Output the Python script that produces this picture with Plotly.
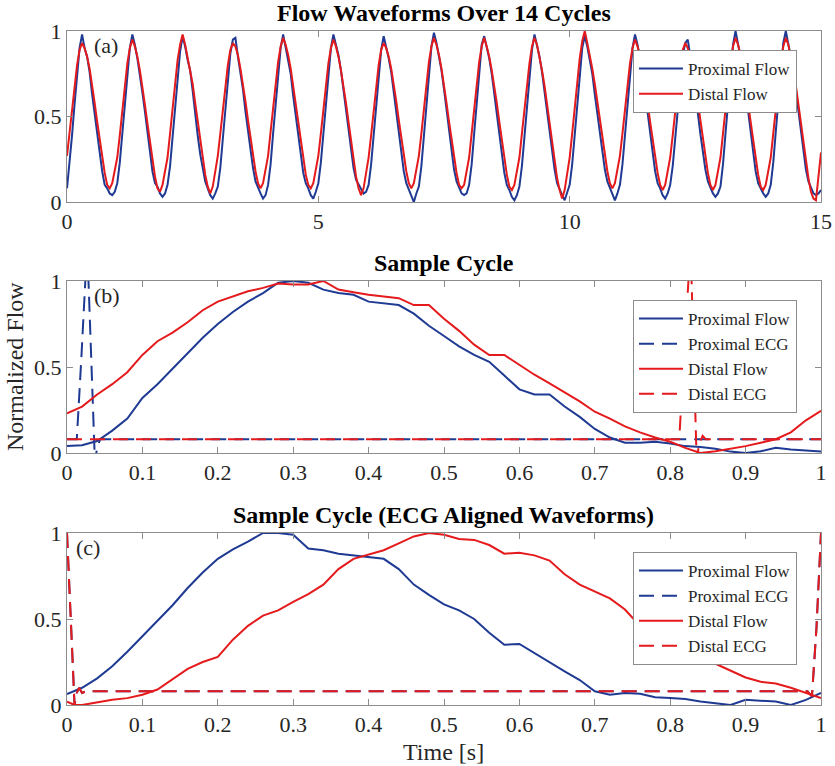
import numpy as np
import plotly.graph_objects as go

# ---------------- Panel (a): 15 s of flow, sampled every 0.05 s ----------------
t_a = np.round(np.arange(301) * 0.05, 2)

prox_flow_a = [
    0.08, 0.22, 0.39, 0.57, 0.74, 0.90, 0.98, 0.90, 0.85, 0.76, 0.63, 0.52, 0.40, 0.28, 0.18, 0.10, 0.08, 0.05, 0.04, 0.06,
    0.11, 0.23, 0.40, 0.58, 0.75, 0.90, 0.98, 0.92, 0.84, 0.75, 0.64, 0.53, 0.41, 0.29, 0.18, 0.11, 0.09, 0.05, 0.03, 0.05,
    0.10, 0.21, 0.38, 0.56, 0.74, 0.88, 0.97, 0.91, 0.83, 0.77, 0.65, 0.51, 0.39, 0.28, 0.19, 0.12, 0.08, 0.04, 0.02, 0.05,
    0.09, 0.20, 0.37, 0.55, 0.72, 0.87, 0.95, 0.96, 0.85, 0.76, 0.66, 0.53, 0.41, 0.30, 0.20, 0.12, 0.08, 0.05, 0.02, 0.04,
    0.10, 0.22, 0.40, 0.58, 0.75, 0.90, 0.98, 0.90, 0.84, 0.75, 0.62, 0.51, 0.39, 0.27, 0.17, 0.11, 0.08, 0.04, 0.02, 0.06,
    0.11, 0.23, 0.41, 0.59, 0.76, 0.90, 0.98, 0.92, 0.86, 0.77, 0.65, 0.54, 0.42, 0.30, 0.20, 0.13, 0.10, 0.07, 0.05, 0.06,
    0.10, 0.22, 0.39, 0.57, 0.74, 0.89, 0.97, 0.91, 0.84, 0.76, 0.64, 0.52, 0.40, 0.28, 0.18, 0.11, 0.07, 0.03, 0.00, 0.05,
    0.09, 0.21, 0.39, 0.58, 0.76, 0.91, 0.99, 0.93, 0.85, 0.77, 0.66, 0.54, 0.42, 0.30, 0.19, 0.12, 0.08, 0.05, 0.04, 0.05,
    0.10, 0.22, 0.40, 0.58, 0.75, 0.92, 0.97, 0.91, 0.84, 0.75, 0.63, 0.51, 0.39, 0.27, 0.17, 0.10, 0.07, 0.03, 0.01, 0.04,
    0.09, 0.21, 0.38, 0.56, 0.74, 0.89, 0.98, 0.92, 0.85, 0.76, 0.64, 0.52, 0.40, 0.29, 0.19, 0.11, 0.07, 0.04, 0.01, 0.05,
    0.10, 0.22, 0.40, 0.58, 0.75, 0.90, 0.97, 0.91, 0.83, 0.75, 0.63, 0.52, 0.41, 0.29, 0.19, 0.12, 0.08, 0.04, 0.01, 0.05,
    0.10, 0.22, 0.39, 0.57, 0.75, 0.90, 0.98, 0.92, 0.84, 0.76, 0.64, 0.53, 0.41, 0.29, 0.18, 0.11, 0.08, 0.04, 0.02, 0.05,
    0.10, 0.21, 0.38, 0.55, 0.72, 0.86, 0.93, 0.95, 0.85, 0.75, 0.64, 0.52, 0.40, 0.29, 0.19, 0.12, 0.08, 0.05, 0.03, 0.05,
    0.09, 0.22, 0.40, 0.59, 0.77, 0.92, 1.00, 0.92, 0.85, 0.77, 0.65, 0.53, 0.41, 0.29, 0.18, 0.11, 0.08, 0.05, 0.03, 0.05,
    0.10, 0.23, 0.41, 0.60, 0.78, 0.93, 1.00, 0.93, 0.86, 0.77, 0.65, 0.53, 0.41, 0.29, 0.19, 0.12, 0.08, 0.05, 0.04, 0.05,
    0.07,
]

dist_flow_a = [
    0.27, 0.40, 0.53, 0.67, 0.80, 0.89, 0.93, 0.90, 0.85, 0.78, 0.69, 0.58, 0.47, 0.36, 0.26, 0.17, 0.10, 0.08, 0.11, 0.18,
    0.26, 0.39, 0.53, 0.68, 0.81, 0.90, 0.95, 0.91, 0.85, 0.77, 0.68, 0.57, 0.46, 0.35, 0.25, 0.15, 0.08, 0.06, 0.10, 0.17,
    0.26, 0.40, 0.55, 0.70, 0.83, 0.92, 0.98, 0.92, 0.85, 0.78, 0.69, 0.58, 0.47, 0.36, 0.26, 0.16, 0.09, 0.05, 0.09, 0.17,
    0.27, 0.40, 0.54, 0.67, 0.80, 0.89, 0.93, 0.91, 0.86, 0.78, 0.69, 0.59, 0.48, 0.37, 0.27, 0.18, 0.11, 0.08, 0.11, 0.18,
    0.27, 0.41, 0.55, 0.69, 0.82, 0.91, 0.96, 0.92, 0.86, 0.78, 0.68, 0.57, 0.46, 0.35, 0.25, 0.16, 0.10, 0.08, 0.11, 0.18,
    0.27, 0.40, 0.54, 0.68, 0.81, 0.90, 0.95, 0.91, 0.85, 0.77, 0.68, 0.58, 0.47, 0.36, 0.25, 0.15, 0.08, 0.04, 0.08, 0.16,
    0.26, 0.39, 0.53, 0.67, 0.80, 0.89, 0.93, 0.90, 0.85, 0.78, 0.69, 0.59, 0.48, 0.37, 0.27, 0.18, 0.11, 0.08, 0.11, 0.18,
    0.27, 0.40, 0.54, 0.68, 0.82, 0.91, 0.96, 0.92, 0.86, 0.78, 0.69, 0.58, 0.47, 0.36, 0.26, 0.17, 0.10, 0.08, 0.10, 0.17,
    0.26, 0.40, 0.54, 0.69, 0.82, 0.91, 0.96, 0.91, 0.85, 0.77, 0.68, 0.58, 0.47, 0.36, 0.25, 0.16, 0.09, 0.07, 0.10, 0.17,
    0.26, 0.40, 0.54, 0.68, 0.81, 0.91, 0.96, 0.92, 0.85, 0.77, 0.68, 0.57, 0.46, 0.35, 0.24, 0.14, 0.07, 0.02, 0.07, 0.16,
    0.26, 0.40, 0.55, 0.70, 0.84, 0.94, 1.00, 0.93, 0.86, 0.78, 0.69, 0.59, 0.48, 0.37, 0.27, 0.18, 0.11, 0.08, 0.11, 0.18,
    0.27, 0.40, 0.54, 0.68, 0.81, 0.90, 0.95, 0.91, 0.85, 0.77, 0.68, 0.58, 0.47, 0.36, 0.26, 0.17, 0.10, 0.07, 0.10, 0.17,
    0.26, 0.39, 0.53, 0.67, 0.80, 0.89, 0.93, 0.90, 0.85, 0.78, 0.69, 0.59, 0.48, 0.37, 0.27, 0.17, 0.10, 0.07, 0.10, 0.17,
    0.26, 0.40, 0.54, 0.68, 0.82, 0.91, 0.96, 0.92, 0.86, 0.78, 0.68, 0.58, 0.47, 0.36, 0.26, 0.16, 0.09, 0.07, 0.10, 0.17,
    0.26, 0.40, 0.54, 0.68, 0.82, 0.91, 0.96, 0.92, 0.85, 0.77, 0.68, 0.57, 0.46, 0.35, 0.24, 0.14, 0.06, 0.02, 0.01, 0.15,
    0.29,
]

# ---------------- Panel (b): sample cycle ----------------
t_cycle = np.round(np.arange(51) * 0.02, 2)

prox_flow_b = [
    0.040, 0.045, 0.070, 0.130, 0.200, 0.320, 0.400, 0.490, 0.580, 0.670,
    0.750, 0.820, 0.880, 0.930, 0.990, 1.000, 0.990, 0.950, 0.930, 0.920,
    0.880, 0.870, 0.860, 0.810, 0.740, 0.680, 0.620, 0.570, 0.530, 0.450,
    0.370, 0.340, 0.340, 0.270, 0.210, 0.140, 0.090, 0.060, 0.060, 0.065,
    0.055, 0.040, 0.035, 0.025, 0.008, 0.000, 0.010, 0.030, 0.020, 0.015,
    0.008,
]
dist_flow_b = [
    0.230, 0.270, 0.340, 0.400, 0.470, 0.570, 0.650, 0.700, 0.760, 0.830,
    0.880, 0.910, 0.940, 0.960, 0.985, 0.980, 0.980, 1.000, 0.950, 0.935,
    0.920, 0.910, 0.900, 0.860, 0.860, 0.780, 0.710, 0.630, 0.570, 0.570,
    0.510, 0.455, 0.405, 0.355, 0.300, 0.240, 0.200, 0.155, 0.120, 0.090,
    0.065, 0.030, 0.000, 0.010, 0.025, 0.040, 0.060, 0.080, 0.120, 0.190,
    0.245,
]
prox_ecg_b_t = [0.0, 0.013, 0.019, 0.025, 0.028, 0.032, 0.037, 0.040, 0.044, 1.0]
prox_ecg_b = [0.08, 0.08, 0.55, 1.06, 1.06, 0.55, -0.05, 0.03, 0.08, 0.08]
dist_ecg_b_t = [0.0, 0.812, 0.818, 0.825, 0.828, 0.832, 0.835, 0.839, 0.843, 0.847, 1.0]
dist_ecg_b = [0.08, 0.08, 0.55, 1.06, 1.06, 0.45, -0.03, 0.06, 0.10, 0.08, 0.08]

# ---------------- Panel (c): ECG aligned ----------------
prox_flow_c = [
    0.064, 0.100, 0.155, 0.225, 0.310, 0.400, 0.490, 0.580, 0.680, 0.770,
    0.850, 0.905, 0.950, 1.000, 1.000, 0.990, 0.910, 0.900, 0.880, 0.870,
    0.860, 0.850, 0.790, 0.700, 0.640, 0.585, 0.550, 0.500, 0.420, 0.350,
    0.355, 0.300, 0.250, 0.195, 0.145, 0.080, 0.060, 0.070, 0.065, 0.045,
    0.040, 0.035, 0.020, 0.010, 0.000, 0.030, 0.025, 0.020, 0.000, 0.030,
    0.070,
]
dist_flow_c_t = [0.0, 0.01] + [round(0.02 * k, 2) for k in range(1, 51)]
dist_flow_c = [
    0.020, 0.000,
    0.000, 0.015, 0.030, 0.040, 0.060, 0.090, 0.150, 0.210, 0.250,
    0.280, 0.380, 0.460, 0.520, 0.550, 0.600, 0.645, 0.700, 0.790, 0.850,
    0.875, 0.900, 0.940, 0.980, 1.000, 0.990, 0.965, 0.960, 0.930, 0.880,
    0.885, 0.870, 0.840, 0.760, 0.700, 0.660, 0.620, 0.555, 0.460, 0.400,
    0.340, 0.290, 0.275, 0.240, 0.200, 0.160, 0.135, 0.125, 0.100, 0.070,
    0.040,
]
ecg_c_t = [0.0, 0.004, 0.010, 0.013, 0.016, 0.020, 0.025, 0.982, 0.988, 0.994, 1.0]
prox_ecg_c = [1.0, 0.60, 0.0, 0.07, 0.10, 0.07, 0.08, 0.08, 0.05, 0.45, 1.0]
dist_ecg_c = [1.0, 0.60, 0.0, 0.07, 0.10, 0.07, 0.08, 0.08, 0.05, 0.45, 1.0]

# ---------------- styling ----------------
BLUE = "#1f3a93"
RED = "#e41a1c"
AX = "#8c8c8c"
TXT = "#262626"
FONT = "Liberation Serif"
W, H = 835, 766

fig = go.Figure()

def line(x, y, color, name, dash, xa, ya, legend, show=True):
    fig.add_trace(go.Scatter(
        x=x, y=y, mode="lines", name=name,
        line=dict(color=color, width=2, dash=dash),
        xaxis=xa, yaxis=ya, legend=legend, showlegend=show,
    ))

SOLID = "solid"
DASH = "15px,8px"

line(t_a, prox_flow_a, BLUE, "Proximal Flow", SOLID, "x", "y", "legend")
line(t_a, dist_flow_a, RED, "Distal Flow", SOLID, "x", "y", "legend")

line(t_cycle, prox_flow_b, BLUE, "Proximal Flow", SOLID, "x2", "y2", "legend2")
line(prox_ecg_b_t, prox_ecg_b, BLUE, "Proximal ECG", DASH, "x2", "y2", "legend2")
line(t_cycle, dist_flow_b, RED, "Distal Flow", SOLID, "x2", "y2", "legend2")
line(dist_ecg_b_t, dist_ecg_b, RED, "Distal ECG", DASH, "x2", "y2", "legend2")

line(t_cycle, prox_flow_c, BLUE, "Proximal Flow", SOLID, "x3", "y3", "legend3")
line(ecg_c_t, prox_ecg_c, BLUE, "Proximal ECG", DASH, "x3", "y3", "legend3")
line(dist_flow_c_t, dist_flow_c, RED, "Distal Flow", SOLID, "x3", "y3", "legend3")
line(ecg_c_t, dist_ecg_c, RED, "Distal ECG", DASH, "x3", "y3", "legend3")

x_dom = [67 / W, 821 / W]

def ydom(top, bottom):
    return [1 - bottom / H, 1 - top / H]

cyc_ticks = [0, 0.1, 0.2, 0.3, 0.4, 0.5, 0.6, 0.7, 0.8, 0.9, 1]
cyc_text = ["0", "0.1", "0.2", "0.3", "0.4", "0.5", "0.6", "0.7", "0.8", "0.9", "1"]
TICKFONT = dict(family=FONT, size=22, color=TXT)

def xax(anchor, rng, tv, tt):
    return dict(domain=x_dom, anchor=anchor, range=rng, tickvals=tv, ticktext=tt,
                ticks="inside", ticklen=6, tickcolor=AX, showline=True, linecolor=AX,
                linewidth=1, mirror="ticks", showgrid=False, zeroline=False,
                automargin=False, tickfont=TICKFONT)

def yax(anchor, dom):
    return dict(domain=dom, anchor=anchor, range=[0, 1], tickvals=[0, 0.5, 1],
                ticktext=["0", "0.5", "1"], ticks="inside", ticklen=6, tickcolor=AX,
                showline=True, linecolor=AX, linewidth=1, mirror="ticks",
                showgrid=False, zeroline=False, automargin=False,
                tickfont=TICKFONT)

def leg(top):
    return dict(x=633 / W, y=1 - top / H, xanchor="left", yanchor="top",
                bgcolor="white", bordercolor=AX, borderwidth=1,
                font=dict(family=FONT, size=17, color=TXT), tracegroupgap=0,
                itemwidth=44)

fig.update_layout(
    width=W, height=H, margin=dict(l=0, r=0, t=0, b=0, pad=0, autoexpand=False),
    paper_bgcolor="white", plot_bgcolor="white",
    xaxis=xax("y", [0, 15], [0, 5, 10, 15], ["0", "5", "10", "15"]),
    yaxis=yax("x", ydom(31, 202)),
    xaxis2=xax("y2", [0, 1], cyc_ticks, cyc_text),
    yaxis2=yax("x2", ydom(281, 453)),
    xaxis3=xax("y3", [0, 1], cyc_ticks, cyc_text),
    yaxis3=yax("x3", ydom(533, 705)),
    legend=leg(50),
    legend2=leg(300),
    legend3=leg(552),
    showlegend=True,
)

def ann(text, xpx, ypx, size, angle=0, bold=False, xanchor="center"):
    fig.add_annotation(text=f"<b>{text}</b>" if bold else text,
                       x=xpx / W, y=1 - ypx / H, xref="paper", yref="paper",
                       showarrow=False, textangle=angle, xanchor=xanchor, yanchor="middle",
                       font=dict(family=FONT, size=size, color="black" if bold else TXT))

ann("Flow Waveforms Over 14 Cycles", 444, 13, 24, bold=True)
ann("Sample Cycle", 444, 263, 24, bold=True)
ann("Sample Cycle (ECG Aligned Waveforms)", 444, 515, 24, bold=True)
ann("Normalized Flow", 15, 367, 24, angle=-90)
ann("Time [s]", 444, 752, 24)
ann("(a)", 92, 45, 22, xanchor="left")
ann("(b)", 92, 295, 22, xanchor="left")
ann("(c)", 74, 547, 22, xanchor="left")

fig.write_html("out.html", config={"displayModeBar": False},
               post_script="document.body.style.margin='0px';")
